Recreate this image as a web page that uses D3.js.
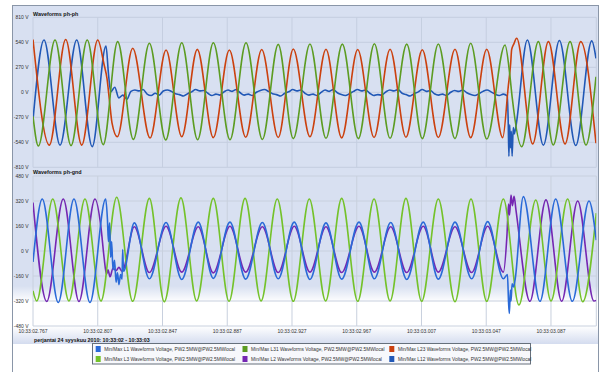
<!DOCTYPE html>
<html>
<head>
<meta charset="utf-8">
<script src="https://cdn.jsdelivr.net/npm/d3@7"></script>
<style>
  body { margin: 0; background: #fff; }
  svg { display: block; font-family: "Liberation Sans", Arial, sans-serif; }
</style>
</head>
<body>
<svg id="chart" width="601" height="372"></svg>
<script>
// time axis: milliseconds after 10:33:02.767
const xTickValues = [0, 40, 80, 120, 160, 200, 240, 280, 320];
const xTickLabels = ['10:33:02.767', '10:33:02.807', '10:33:02.847', '10:33:02.887', '10:33:02.927',
  '10:33:02.967', '10:33:03.007', '10:33:03.047', '10:33:03.087'];
const phTicks = [-810, -540, -270, 0, 270, 540, 810];
const gndTicks = [-480, -320, -160, 0, 160, 320, 480];
const dateLabel = 'perjantai 24 syyskuu 2010: 10:33:02 - 10:33:03';

const legendLabels = [
  'Min/Max L1 Waveforms Voltage, PW2.5MW@PW2.5MWlocal',
  'Min/Max L31 Waveforms Voltage, PW2.5MW@PW2.5MWlocal',
  'Min/Max L23 Waveforms Voltage, PW2.5MW@PW2.5MWlocal',
  'Min/Max L3 Waveforms Voltage, PW2.5MW@PW2.5MWlocal',
  'Min/Max L2 Waveforms Voltage, PW2.5MW@PW2.5MWlocal',
  'Min/Max L12 Waveforms Voltage, PW2.5MW@PW2.5MWlocal'
];
const legendKeys = ['L1', 'L31', 'L23', 'L3', 'L2', 'L12'];

// [ms, volts] peaks, troughs and turning points
const l23 = [[0, 570], [10.1, -570], [20.2, 570], [30.1, -570], [40.0, 565], [43.9, 300], [45.7, 150],
  [47.3, -100], [48.8, -330], [52.1, -480], [61.6, 475], [72.3, -494], [82.2, 457], [91.9, -480],
  [101.5, 464], [111.4, -490], [121.3, 457], [131.4, -485], [141.3, 462], [151.5, -488], [160.8, 468],
  [171.1, -480], [181.0, 465], [190.7, -492], [200.6, 462], [210.7, -488], [220.6, 465], [230.4, -485],
  [240.5, 460], [250.4, -488], [260.7, 465], [270.4, -490], [280.3, 465], [290.2, -490], [293.6, 60],
  [295.1, 313], [295.7, 460], [297.0, 520], [298.8, 583], [308.7, -558], [318.4, 547], [328.7, -558],
  [338.4, 547], [347.8, -550]];

const l31 = [[0, -260], [3.3, -580], [13.6, 565], [23.5, -575], [33.5, 565], [43.4, -565], [52.3, 547],
  [62.0, -508], [71.9, 529], [82.0, -515], [91.9, 535], [101.7, -512], [111.4, 535], [121.7, -512],
  [131.6, 535], [141.7, -510], [151.5, 518], [160.8, -500], [171.1, 522], [181.0, -497], [191.1, 520],
  [201.0, -500], [210.9, 525], [220.6, -497], [230.9, 520], [240.5, -500], [250.4, 522], [260.7, -500],
  [270.4, 529], [280.3, -505], [291.6, 511], [294.5, 200], [296.0, -50], [301.9, -588], [312.2, 547],
  [321.4, -569], [331.8, 547], [341.6, -569], [347.8, 168]];

const l12 = [[0, -300], [6.8, 565], [16.7, -570], [27.0, 565], [36.6, -587], [45.1, 500], [46.6, 205],
  [48, 5], [50.5, 55], [53, -60], [55.5, -30], [58, -75], [60.5, 10], [63, 25], [65.5, 15], [68, 30],
  [70.5, -20], [73, -35], [75.5, -10], [78, -30], [80.5, 15], [83, 25], [85.5, 10], [88, -15], [90.5, -25],
  [93, -40], [95.5, -15], [98, 5], [100.5, 30], [103, 15], [105.5, 20], [108, -10], [110.5, -35],
  [113, -20], [115.5, -30], [118, 5], [120.5, 25], [123, 10], [125.5, 30], [128, -5], [130.5, -30],
  [133, -20], [135.5, -35], [138, 0], [140.5, 20], [143, 30], [145.5, 10], [148, -15], [150.5, -25],
  [153, -40], [155.5, -10], [158, 5], [160.5, 30], [163, 15], [165.5, 25], [168, -10], [170.5, -30],
  [173, -20], [175.5, -35], [178, 0], [180.5, 25], [183, 10], [185.5, 30], [188, -5], [190.5, -25],
  [193, -35], [195.5, -15], [198, 10], [200.5, 30], [203, 15], [205.5, 25], [208, -10], [210.5, -35],
  [213, -25], [215.5, -30], [218, 5], [220.5, 25], [223, 15], [225.5, 30], [228, -10], [230.5, -25],
  [233, -40], [235.5, -15], [238, 5], [240.5, 30], [243, 10], [245.5, 20], [248, -15], [250.5, -30],
  [253, -20], [255.5, -35], [258, 0], [260.5, 20], [263, 10], [265.5, 25], [268, -5], [270.5, -25],
  [273, -35], [275.5, -15], [278, 10], [280.5, 25], [283, 5], [285.5, -20], [288, -35], [290.5, -20],
  [293, -40], [293.6, -330], [294.0, -690], [294.5, -350], [295.0, -600], [295.5, -420], [296.0, -690],
  [296.7, -380], [297.3, -450], [298.0, -400], [305.4, 565], [315.3, -570], [325.2, 560], [335.3, -575],
  [345.2, 555], [347.8, 367]];

const l3 = [[0, -255], [2.3, -320], [12.2, 333], [22.2, -320], [32.1, 333], [42.0, -320], [51.7, 344],
  [61.6, -322], [71.9, 337], [81.1, -325], [91.4, 340], [101.1, -320], [111.4, 337], [121.1, -322],
  [131.0, 337], [140.9, -320], [150.9, 333], [160.8, -322], [170.7, 333], [180.8, -320], [190.7, 337],
  [200.6, -322], [210.7, 333], [220.6, -320], [230.4, 337], [240.1, -322], [250.4, 333], [260.7, -325],
  [270.6, 333], [280.3, -322], [290.6, 333], [300.2, -346], [310.6, 326], [320.0, -320], [330.3, 333],
  [339.6, -325], [348, 242]];

const l1 = [[0, -70], [5.7, 333], [15.6, -330], [25.3, 333], [35.2, -330], [44.9, 333], [46.0, 200],
  [46.6, 60], [47.3, 180], [48.0, -40], [48.6, 60], [49.4, -120], [50.4, -60], [51.3, -200], [52.2, -140],
  [53.1, -215], [54.1, -150], [55.0, -180], [55.4, 10], [55.9, -130], [62.6, 180], [71.9, -178],
  [82.2, 182], [91.9, -182], [102.1, 185], [111.4, -175], [121.7, 185], [131.4, -180], [141.7, 182],
  [151.5, -178], [161.4, 185], [171.1, -182], [181.0, 180], [190.7, -180], [201.4, 185], [210.9, -178],
  [221.0, 182], [230.9, -182], [241.1, 185], [250.4, -180], [260.7, 185], [271.0, -178], [280.9, 188],
  [290.6, -178], [293.1, -150], [293.8, -330], [294.3, -400], [294.9, -250], [295.3, -320], [296.0, -210],
  [296.9, -230], [297.8, -186], [302.9, 348], [313.2, -322], [322.9, 333], [333.2, -322], [343.5, 320],
  [348, 70]];

const l2 = [[0, 310], [8.5, -323], [18.7, 333], [28.4, -323], [38.3, 333], [42.0, 150], [43.9, -40],
  [45.4, -150], [46.3, -120], [47.6, -165], [49.4, -110], [51.3, -125], [53.1, -105], [55.0, -130],
  [62.6, 155], [71.9, -138], [82.2, 158], [91.9, -135], [102.1, 155], [111.4, -140], [121.7, 158],
  [131.4, -135], [141.7, 155], [151.5, -138], [161.4, 158], [171.1, -135], [181.0, 155], [190.7, -138],
  [201.4, 158], [210.9, -135], [221.0, 155], [230.9, -138], [241.1, 158], [250.4, -135], [260.7, 155],
  [271.0, -138], [280.9, 158], [290.6, -135], [292.8, 100], [293.8, 300], [294.4, 230], [295.3, 358],
  [296.2, 290], [297.2, 350], [298.4, 260], [307.0, -322], [316.9, 327], [326.6, -322], [336.5, 320],
  [346.5, -320], [348, -316]];

const colors = { L1: '#2a6ad8', L31: '#5c9c22', L23: '#cb410f', L3: '#74c22a', L2: '#7527b2', L12: '#2158b6' };
const bg = '#d8e0f1';

const svg = d3.select('#chart');
const x = d3.scaleLinear().domain([0, 348]).range([33, 596.3]);

const defs = svg.append('defs');
const fade = defs.append('linearGradient').attr('id', 'fade').attr('x1', 0).attr('x2', 0).attr('y1', 0).attr('y2', 1);
fade.append('stop').attr('offset', 0).attr('stop-color', '#fff').attr('stop-opacity', 0);
fade.append('stop').attr('offset', 0.4).attr('stop-color', '#fff').attr('stop-opacity', 1);
fade.append('stop').attr('offset', 1).attr('stop-color', '#fff').attr('stop-opacity', 1);
const band = defs.append('linearGradient').attr('id', 'band').attr('x1', 0).attr('x2', 0).attr('y1', 0).attr('y2', 1);
band.append('stop').attr('offset', 0).attr('stop-color', '#fff');
band.append('stop').attr('offset', 1).attr('stop-color', '#d4dcef');

// frame
svg.append('rect').attr('x', 12.5).attr('y', 5.5).attr('width', 586).attr('height', 380)
  .attr('fill', bg).attr('stroke', '#8a96a8');
svg.append('rect').attr('x', 13).attr('y', 286).attr('width', 585).attr('height', 40).attr('fill', 'url(#fade)');
svg.append('rect').attr('x', 13).attr('y', 326).attr('width', 585).attr('height', 18).attr('fill', 'url(#band)');
svg.append('rect').attr('x', 13).attr('y', 344).attr('width', 585).attr('height', 30).attr('fill', '#fff');

const panels = [
  { title: 'Waveforms ph-ph', ticks: phTicks, top: 17.3, bottom: 167.3, series: [['L12', l12], ['L23', l23], ['L31', l31]] },
  { title: 'Waveforms ph-gnd', ticks: gndTicks, top: 176, bottom: 326, series: [['L2', l2], ['L3', l3], ['L1', l1]] }
];

panels.forEach((p, i) => {
  const y = d3.scaleLinear().domain(d3.extent(p.ticks)).range([p.bottom, p.top]);
  const g = svg.append('g');
  const grid = i === 0 ? '#c5cee0' : '#c8d0de';
  g.selectAll('line.h').data(p.ticks).join('line')
    .attr('x1', x(0)).attr('x2', x(348))
    .attr('y1', d => y(d)).attr('y2', d => y(d))
    .attr('stroke', grid).attr('stroke-width', 1);
  g.selectAll('line.v').data(xTickValues).join('line')
    .attr('x1', d => x(d)).attr('x2', d => x(d))
    .attr('y1', p.top).attr('y2', p.bottom)
    .attr('stroke', grid).attr('stroke-width', 1);
  g.append('line').attr('x1', x(348)).attr('x2', x(348)).attr('y1', p.top).attr('y2', p.bottom)
    .attr('stroke', grid);
  g.selectAll('text.yl').data(p.ticks).join('text')
    .attr('x', 28.5).attr('y', d => y(d)).attr('dy', '0.35em')
    .attr('text-anchor', 'end').attr('font-size', 5).attr('fill', '#333')
    .text(d => d + ' V');
  g.append('text').attr('x', 33).attr('y', p.top - 1.8)
    .attr('font-size', 5.4).attr('font-weight', 'bold').attr('fill', '#111').text(p.title);

  const clipId = 'clip' + i;
  defs.append('clipPath').attr('id', clipId).append('rect')
    .attr('x', x(0)).attr('y', p.top - 4).attr('width', x(348) - x(0)).attr('height', p.bottom - p.top + 8);
  const line = d3.line().x(d => x(d[0])).y(d => y(d[1])).curve(d3.curveMonotoneX);
  g.append('g').attr('clip-path', `url(#${clipId})`)
    .selectAll('path').data(p.series).join('path')
    .attr('d', d => line(d[1]))
    .attr('fill', 'none').attr('stroke', d => colors[d[0]])
    .attr('stroke-width', 1.6).attr('stroke-linejoin', 'round');
});

// time axis
svg.selectAll('text.xl').data(xTickValues).join('text')
  .attr('x', d => x(d)).attr('y', 332.8).attr('text-anchor', 'middle')
  .attr('font-size', 5).attr('fill', '#333').text((d, i) => xTickLabels[i]);
svg.append('text').attr('x', 34).attr('y', 341.8).attr('font-size', 5.3).attr('font-weight', 'bold')
  .attr('fill', '#111').text(dateLabel);

// legend
const lg = svg.append('g');
lg.append('rect').attr('x', 92.5).attr('y', 343.5).attr('width', 438).attr('height', 20.5)
  .attr('fill', '#f7f8fc').attr('stroke', '#66707c');
legendKeys.forEach((k, i) => {
  const cx = 95.7 + (i % 3) * 146.8;
  const cy = i < 3 ? 349 : 359;
  lg.append('rect').attr('x', cx).attr('y', cy - 3).attr('width', 5).attr('height', 6).attr('fill', colors[k]);
  lg.append('text').attr('x', cx + 8.6).attr('y', cy).attr('dy', '0.35em')
    .attr('font-size', 4.8).attr('fill', '#333').text(legendLabels[i]);
});
</script>
</body>
</html>
